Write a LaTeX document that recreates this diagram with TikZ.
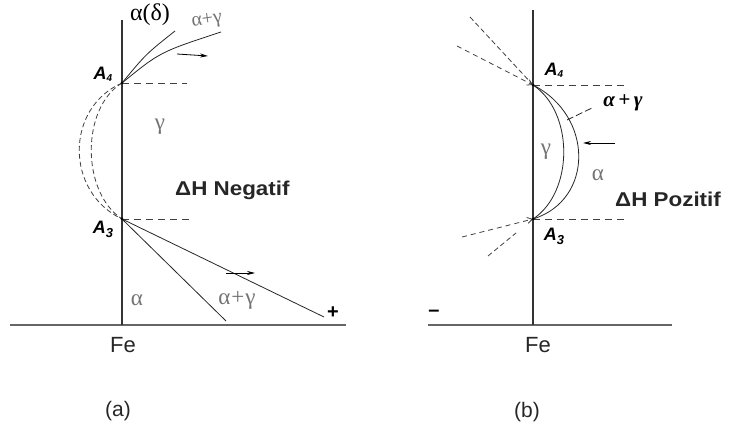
\documentclass[tikz,border=0pt]{standalone}
\usepackage{fontspec}
\setmainfont{Liberation Sans}
\newfontfamily\grk{Liberation Serif}
\usetikzlibrary{arrows.meta}
\begin{document}
\begin{tikzpicture}[x=1pt,y=-1pt,
  axisline/.style={draw=black!80, line width=1.6pt},
  baseline/.style={draw=black!60, line width=2.2pt},
  thinline/.style={draw=black!85, line width=0.8pt},
  dshline/.style={draw=black!75, line width=0.8pt, dash pattern=on 7pt off 5pt},
  dsharc/.style={draw=black!75, line width=0.8pt, dash pattern=on 5pt off 3pt},
  arrline/.style={draw=black, line width=0.8pt, -{Stealth[length=8pt,width=4pt]}},
  dsharr/.style={draw=black!75, line width=0.8pt, dash pattern=on 5pt off 4pt, -{Straight Barb[length=5pt,width=6pt]}},
  ptlbl/.style={inner sep=0pt, font=\fontsize{18}{18}\selectfont\bfseries\itshape},
  greek/.style={inner sep=0pt, font=\fontsize{23}{23}\selectfont\grk},
  greygreek/.style={greek, text=black!55},
  dhlbl/.style={inner sep=0pt, anchor=base west, font=\fontsize{20}{20}\selectfont\bfseries, text=black!85},
  felbl/.style={inner sep=0pt, font=\fontsize{22}{22}\selectfont, text=black!85},
  caplbl/.style={inner sep=0pt, font=\fontsize{21}{21}\selectfont, text=black!85}
]
\useasboundingbox (0,0) rectangle (731,430);
% ---------------- panel (a)
\coordinate (aTop) at (122,20);
\coordinate (aA4) at (122,83);
\coordinate (aA3) at (122,219);
\coordinate (aFe) at (122,325);
\coordinate (aBL) at (10,325);
\coordinate (aBR) at (346,325);
\coordinate (aD4) at (187,83);
\coordinate (aD3) at (190,219);
\coordinate (aL1) at (175,31);
\coordinate (aL2) at (221,32);
\coordinate (aL3) at (226,321);
\coordinate (aL4) at (324,317);
\coordinate (aR1s) at (177,54);
\coordinate (aR1e) at (208,56);
\coordinate (aR2s) at (226,273);
\coordinate (aR2e) at (255,273);
\draw[baseline] (aBL) -- (aBR);
\draw[axisline] (aTop) -- (aFe);
\draw[dshline] (aA4) -- (aD4);
\draw[dshline] (aA3) -- (aD3);
\draw[thinline] (aA4) .. controls (146,54) .. (aL1);
\draw[thinline] (aA4) .. controls (160,52) .. (aL2);
\draw[thinline] (aA3) -- (aL3);
\draw[thinline] (aA3) -- (aL4);
\draw[dsharc] (aA4) .. controls (65,108) and (65,192) .. (aA3);
\draw[dsharc] (aA4) .. controls (81,108) and (81,192) .. (aA3);
\draw[arrline] (aR1s) -- (aR1e);
\draw[arrline] (aR2s) -- (aR2e);
\fill[black] (aA4) circle (1.5pt);
\fill[black] (aA3) circle (1.5pt);
\node[greek, font=\fontsize{24}{24}\selectfont\grk] (aAD) at (150,15) {α(δ)};
\node[greygreek, font=\fontsize{20}{20}\selectfont\grk, rotate=8] (aAG1) at (207,21) {α+γ};
\node[greygreek] (aG) at (160,127) {γ};
\node[dhlbl] (aDH) at (175,196) {\scalebox{1.12}[1]{Δ\fontsize{20}{20}\selectfont H Negatif}};
\node[ptlbl] (aA4l) at (103,74) {A\raisebox{-2pt}{\fontsize{10}{10}\selectfont 4}};
\node[ptlbl] (aA3l) at (103,229) {A\raisebox{-4pt}{\fontsize{13}{13}\selectfont 3}};
\node[greygreek] (aAl) at (137,300) {α};
\node[greygreek] (aAG2) at (237,300) {α\kern1pt+\kern1pt γ};
\node[inner sep=0pt, font=\fontsize{20}{20}\selectfont\bfseries] (aPlus) at (333,313) {+};
\node[felbl] (aFel) at (123,345) {Fe};
\node[caplbl] (aCap) at (118,411) {(a)};
% ---------------- panel (b)
\coordinate (bTop) at (533,10);
\coordinate (bA4) at (533,85);
\coordinate (bA3) at (533,219);
\coordinate (bFe) at (533,325);
\coordinate (bBL) at (428,325);
\coordinate (bBR) at (672,325);
\coordinate (bD4) at (625,85);
\coordinate (bD3) at (628,219);
\coordinate (bU1) at (470,17);
\coordinate (bU2) at (457,46);
\coordinate (bU3) at (462,237);
\coordinate (bU4) at (488,256);
\coordinate (bU4e) at (516,233);
\coordinate (bLs) at (567,120);
\coordinate (bLe) at (592,108);
\coordinate (bRs) at (615,143);
\coordinate (bRe) at (583,143);
\draw[baseline] (bBL) -- (bBR);
\draw[axisline] (bTop) -- (bFe);
\draw[dshline] (bA4) -- (bD4);
\draw[dshline] (bA3) -- (bD3);
\draw[dsharc] (bU1) -- (bA4);
\draw[dsharr] (bU2) -- (bA4);
\draw[dsharr] (bU3) -- (bA3);
\draw[dsharc] (bU4) -- (bU4e);
\draw[thinline] (bA4) .. controls (574,112) and (574,192) .. (bA3);
\draw[thinline] (bA4) .. controls (594,116) and (594,200) .. (bA3);
\draw[thinline, dash pattern=on 7pt off 3pt] (bLs) -- (bLe);
\draw[arrline] (bRs) -- (bRe);
\fill[black] (bA4) circle (1.5pt);
\fill[black] (bA3) circle (1.5pt);
\node[greek, font=\fontsize{21}{21}\selectfont\grk\bfseries\itshape] (bAG) at (623,103) {α\,+\,γ};
\node[greygreek] (bG) at (546,152) {γ};
\node[greygreek] (bAl) at (598,175) {α};
\node[dhlbl] (bDH) at (615,207) {\scalebox{1.12}[1]{Δ\fontsize{20}{20}\selectfont H Pozitif}};
\node[ptlbl] (bA4l) at (554,70) {A\raisebox{-2pt}{\fontsize{10}{10}\selectfont 4}};
\node[ptlbl] (bA3l) at (554,236) {A\raisebox{-4pt}{\fontsize{13}{13}\selectfont 3}};
\node[inner sep=0pt, font=\fontsize{20}{20}\selectfont\bfseries] (bMinus) at (434,313) {–};
\node[felbl] (bFel) at (538,345) {Fe};
\node[caplbl] (bCap) at (527,412) {(b)};
\end{tikzpicture}
\end{document}
